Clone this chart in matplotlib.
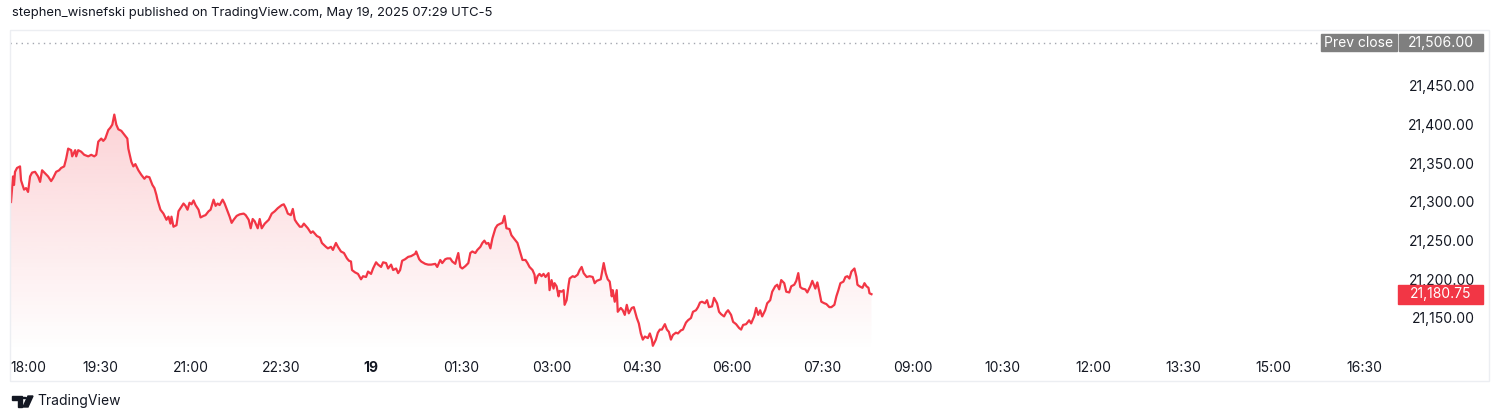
import numpy as np
import matplotlib
matplotlib.use('Agg')
import matplotlib.pyplot as plt
from matplotlib.patches import Rectangle, Polygon
from matplotlib.transforms import blended_transform_factory

plt.rcParams['font.family'] = ['Inter', 'DejaVu Sans']

# minutes after the 18:00 session open, and last price (1-min line)
minutes = [1, 3, 4, 5, 7, 10, 11, 14, 16, 18, 20, 22, 25, 28, 30, 32, 35, 38, 41, 43,
           46, 49, 51, 54, 56, 58, 61, 62, 65, 66, 68, 71, 74, 78, 81, 84, 86, 88, 91, 93,
           95, 98, 100, 102, 104, 106, 108, 111, 114, 117, 118, 121, 123, 125, 128, 131, 134, 136, 139, 142,
           144, 146, 147, 150, 153, 156, 158, 160, 161, 163, 166, 168, 170, 173, 175, 177, 179, 181, 183, 185,
           188, 190, 193, 195, 198, 200, 203, 205, 207, 209, 212, 214, 217, 219, 221, 223, 226, 229, 233, 235,
           238, 240, 242, 244, 247, 249, 251, 254, 258, 261, 264, 267, 271, 273, 275, 277, 280, 282, 284, 286,
           289, 291, 293, 297, 300, 302, 306, 309, 311, 315, 317, 320, 322, 325, 327, 330, 333, 336, 338, 340,
           341, 344, 347, 350, 352, 355, 357, 360, 362, 365, 367, 370, 372, 375, 377, 380, 382, 385, 387, 389,
           391, 394, 397, 400, 404, 405, 408, 410, 414, 417, 420, 424, 426, 429, 431, 434, 436, 439, 441, 444,
           445, 447, 449, 451, 454, 457, 459, 461, 464, 466, 469, 471, 473, 475, 477, 479, 481, 484, 486, 489,
           491, 493, 495, 498, 500, 503, 506, 508, 511, 514, 516, 518, 521, 523, 524, 526, 528, 530, 532, 534,
           537, 538, 540, 542, 543, 545, 547, 548, 550, 552, 553, 555, 557, 558, 561, 563, 566, 568, 570, 572,
           575, 578, 581, 583, 585, 587, 589, 592, 594, 596, 598, 600, 601, 603, 605, 606, 609, 611, 613, 615,
           617, 620, 622, 625, 627, 629, 631, 633, 636, 638, 640, 641, 644, 646, 648, 650, 653, 655, 657, 659,
           661, 664, 666, 669, 671, 674, 676, 679, 681, 684, 686, 688, 690, 693, 695, 697, 700, 702, 705, 707,
           709, 712, 714, 716, 719, 721, 724, 727, 729, 731, 734, 737, 739, 742, 744, 746, 748, 750, 753, 755,
           758, 760, 763, 765, 767, 769, 772, 774, 777, 779, 782, 784, 786, 788, 790, 793, 795, 798, 800, 803,
           805, 807, 809, 812, 814, 817, 819, 822, 824, 826, 828, 831, 833, 835, 837, 839, 842, 844, 845, 847,
           850, 852, 854, 856, 857, 859]
prices = [21300, 21333, 21322, 21339, 21344, 21346, 21328, 21316, 21318, 21313, 21333, 21338, 21339, 21333, 21326, 21341, 21337, 21333, 21327, 21331,
          21339, 21341, 21344, 21346, 21356, 21369, 21367, 21359, 21367, 21359, 21367, 21365, 21361, 21359, 21361, 21359, 21361, 21378, 21382, 21379,
          21382, 21393, 21396, 21400, 21413, 21400, 21394, 21392, 21387, 21382, 21369, 21352, 21346, 21349, 21341, 21335, 21330, 21333, 21332, 21322,
          21318, 21309, 21303, 21290, 21285, 21277, 21281, 21272, 21281, 21268, 21270, 21288, 21292, 21298, 21295, 21290, 21299, 21297, 21302, 21296,
          21290, 21280, 21282, 21283, 21288, 21290, 21303, 21295, 21298, 21296, 21303, 21298, 21288, 21281, 21273, 21277, 21282, 21284, 21285, 21283,
          21277, 21266, 21278, 21275, 21266, 21278, 21266, 21272, 21277, 21285, 21288, 21292, 21296, 21297, 21292, 21285, 21283, 21291, 21277, 21273,
          21268, 21268, 21272, 21266, 21260, 21262, 21256, 21254, 21247, 21242, 21240, 21242, 21238, 21247, 21242, 21236, 21234, 21227, 21224, 21223,
          21212, 21209, 21207, 21200, 21204, 21203, 21210, 21207, 21214, 21222, 21219, 21216, 21222, 21221, 21214, 21219, 21212, 21214, 21208, 21212,
          21224, 21226, 21229, 21230, 21233, 21236, 21226, 21223, 21220, 21219, 21219, 21220, 21216, 21225, 21221, 21226, 21227, 21227, 21223, 21220,
          21225, 21234, 21216, 21214, 21217, 21221, 21234, 21236, 21234, 21238, 21242, 21247, 21250, 21246, 21247, 21240, 21253, 21266, 21270, 21272,
          21273, 21282, 21266, 21265, 21257, 21252, 21247, 21238, 21225, 21225, 21221, 21216, 21212, 21206, 21195, 21204, 21207, 21204, 21207, 21203,
          21208, 21186, 21199, 21188, 21195, 21191, 21178, 21185, 21184, 21186, 21167, 21173, 21193, 21201, 21204, 21203, 21206, 21212, 21216, 21208,
          21203, 21204, 21203, 21195, 21198, 21199, 21200, 21221, 21208, 21200, 21197, 21178, 21186, 21171, 21186, 21158, 21163, 21160, 21154, 21167,
          21156, 21163, 21164, 21150, 21143, 21130, 21122, 21126, 21124, 21130, 21122, 21114, 21122, 21131, 21135, 21135, 21142, 21135, 21132, 21122,
          21128, 21131, 21130, 21134, 21135, 21144, 21147, 21150, 21158, 21160, 21164, 21170, 21171, 21169, 21173, 21164, 21165, 21176, 21169, 21158,
          21155, 21152, 21157, 21160, 21154, 21145, 21142, 21137, 21135, 21141, 21142, 21147, 21143, 21152, 21163, 21154, 21160, 21152, 21160, 21169,
          21173, 21184, 21191, 21193, 21187, 21199, 21195, 21184, 21183, 21191, 21193, 21198, 21208, 21190, 21188, 21187, 21183, 21191, 21198, 21188,
          21196, 21184, 21171, 21169, 21168, 21164, 21164, 21167, 21178, 21186, 21195, 21197, 21203, 21204, 21201, 21210, 21214, 21203, 21193, 21191,
          21189, 21195, 21191, 21189, 21182, 21180.75]

prev_close = 21506.00
last_price = 21180.75
price_ticks = [21150, 21200, 21250, 21300, 21350, 21400, 21450]
time_ticks = [0, 90, 180, 270, 360, 450, 540, 630, 720, 810, 900, 990, 1080, 1170, 1260, 1350]
time_labels = ['18:00', '19:30', '21:00', '22:30', '19', '01:30', '03:00', '04:30', '06:00',
               '07:30', '09:00', '10:30', '12:00', '13:30', '15:00', '16:30']

RED = '#F23645'
TXT = '#131722'
W, H = 1500, 420

fig = plt.figure(figsize=(15, 4.2), dpi=100)
ax = fig.add_axes([10 / W, 1 - 352 / H, (1395 - 10) / W, (352 - 30) / H])
ax.set_xlim(0, 1381)
ax.set_ylim(21106, 21522.4)
for s in ax.spines.values():
    s.set_visible(False)

# area with a vertical gradient under the line
x = np.array(minutes, dtype=float)
y = np.array(prices)
ymin = ax.get_ylim()[0]
verts = np.vstack([[x[0], ymin], np.column_stack([x, y]), [x[-1], ymin]])
poly = Polygon(verts, closed=True, facecolor='none', edgecolor='none')
ax.add_patch(poly)
grad = np.zeros((256, 1, 4))
grad[:, 0, 0] = 242 / 255
grad[:, 0, 1] = 54 / 255
grad[:, 0, 2] = 69 / 255
grad[:, 0, 3] = np.linspace(0.22, 0.0, 256)
img = ax.imshow(grad, aspect='auto', extent=[x[0], x[-1], ymin, y.max()],
                origin='upper', zorder=1)
img.set_clip_path(poly)
ax.set_xlim(0, 1381)
ax.set_ylim(21106, 21522.4)

ax.plot(x, y, color=RED, lw=1.6, zorder=3, solid_joinstyle='round')

# previous close dotted line
ax.axhline(prev_close, color='#a3a6af', lw=1, linestyle=(0, (1, 3)), zorder=2)

# axes ticks
ax.set_xticks(time_ticks)
ax.set_xticklabels(time_labels)
ax.tick_params(axis='x', length=0, pad=6.5, labelsize=10, labelcolor=TXT)
for lbl in ax.get_xticklabels():
    if lbl.get_text() == '19':
        lbl.set_fontweight('bold')
ax.get_xticklabels()[0].set_horizontalalignment('left')

ax.yaxis.tick_right()
ax.set_yticks(price_ticks)
ax.set_yticklabels([f'{v:,.2f}' for v in price_ticks])
ax.tick_params(axis='y', length=0, pad=57.6, labelsize=10, labelcolor=TXT)
for lbl in ax.get_yticklabels():
    lbl.set_horizontalalignment('right')

# price scale labels
bt = blended_transform_factory(fig.transFigure, ax.transData)
ppx = (21522.4 - 21106) / (352 - 30)
h = 17 * ppx
ax.add_patch(Rectangle((1321 / W, prev_close - h / 2), 76 / W, h, transform=bt,
                       color='#7f7f7f', clip_on=False, zorder=5))
ax.add_patch(Rectangle((1399 / W, prev_close - h / 2), 84 / W, h, transform=bt,
                       color='#7f7f7f', clip_on=False, zorder=5))
ax.text(1359 / W, prev_close, 'Prev close', transform=bt, color='white', fontsize=10,
        ha='center', va='center', zorder=6, clip_on=False)
ax.text(1441 / W, prev_close, f'{prev_close:,.2f}', transform=bt, color='white', fontsize=10,
        ha='center', va='center', zorder=6, clip_on=False)

h2 = 19 * ppx
ax.add_patch(Rectangle((1398 / W, last_price - h2 / 2), 85 / W, h2, transform=bt,
                       color=RED, clip_on=False, zorder=5))
ax.text(1441 / W, last_price, f'{last_price:,.2f}', transform=bt, color='white', fontsize=10,
        ha='center', va='center', zorder=6, clip_on=False)

# frame around chart
fig.patches.append(Rectangle((10 / W, 1 - 381 / H), (1489 - 10) / W, (381 - 30) / H,
                             transform=fig.transFigure, fill=False, edgecolor='#eceef2', lw=1))

fig.text(12 / W, 1 - 13 / H, 'stephen_wisnefski published on TradingView.com, May 19, 2025 07:29 UTC-5',
         fontsize=9.4, color=TXT, va='center', ha='left')

# TradingView logo + wordmark
def px(xp, yp):
    return (xp / W, 1 - yp / H)

fig.patches.append(Polygon([px(12, 396), px(22, 396), px(22, 407), px(18, 407), px(18, 400), px(12, 400)],
                           closed=True, transform=fig.transFigure, color=TXT))
fig.patches.append(plt.Circle(px(24.5, 398), 1.9 / W, transform=fig.transFigure, color=TXT))
fig.patches.append(Polygon([px(28, 396), px(33, 396), px(28, 407), px(23, 407)],
                           closed=True, transform=fig.transFigure, color=TXT))
fig.text(37 / W, 1 - 401.5 / H, 'TradingView', fontsize=10, color=TXT, va='center', ha='left')

plt.savefig('out.png', dpi=100)
